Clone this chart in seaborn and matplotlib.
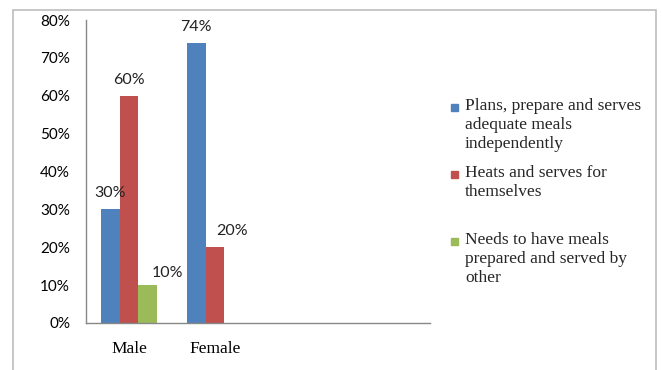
import textwrap
import numpy as np
import pandas as pd
import matplotlib; matplotlib.use("Agg")
import matplotlib.pyplot as plt
import seaborn as sns
from matplotlib.patches import Rectangle

GENDERS       = ["Male", "Female"]
SERIES        = ["Plans, prepare and serves adequate meals independently",
                 "Heats and serves for themselves",
                 "Needs to have meals prepared and served by other"]
VALUES_MALE   = [30, 60, 10]
VALUES_FEMALE = [74, 20, np.nan]
COLORS        = ["#4F81BD", "#C0504D", "#9BBB59"]
Y_TICKS       = [0, 10, 20, 30, 40, 50, 60, 70, 80]

W, H, DPI = 662, 370, 100
SERIF = "Liberation Serif"
SANS  = "Lato"
GREY  = "#878787"

# label nudges in pixels (dx, dy above bar top), Excel put a couple off-centre
NUDGE_DEFAULT = (0, 16)
NUDGE = {(2, 0): (20, 12), (1, 1): (17, 16)}


def px(v): return v * 72 / DPI


rows = []
for g, vals in zip(GENDERS, [VALUES_MALE, VALUES_FEMALE]):
    for s, v in zip(SERIES, vals):
        rows.append({"gender": g, "series": s, "value": v})
df = pd.DataFrame(rows)

sns.set_style("white")
fig = plt.figure(figsize=(W / DPI, H / DPI), dpi=DPI)
ax = fig.add_axes([86 / W, 1 - 323 / H, (430 - 86) / W, (323 - 20) / H])

sns.barplot(data=df, x="gender", y="value", hue="series",
            order=GENDERS, hue_order=SERIES, palette=COLORS,
            width=0.66, gap=0, saturation=1, errorbar=None,
            linewidth=0, legend=False, ax=ax)

for i, cont in enumerate(ax.containers):
    for bar in cont:
        h = bar.get_height()
        if np.isnan(h) or h == 0:
            continue
        cx = bar.get_x() + bar.get_width() / 2
        cat = int(round(cx))
        dx, dy = NUDGE.get((i, cat), NUDGE_DEFAULT)
        ax.annotate(f"{h:.0f}%", (cx, h), xytext=(px(dx), px(dy)),
                    textcoords="offset points", ha="center", va="center",
                    fontsize=11.5, family=SANS, color="#222222")

ax.set_xlim(-0.5, 3.5)
ax.set_ylim(0, 80)
ax.set_yticks(Y_TICKS)
ax.set_yticklabels([f"{t}%" for t in Y_TICKS], family=SANS, fontsize=11)
ax.set_xticks(range(len(GENDERS)))
ax.set_xticklabels(GENDERS, family=SERIF, fontsize=12.5)
ax.set_xticks(np.arange(-0.5, 3.6, 1), minor=True)
ax.set_xlabel(""); ax.set_ylabel("")

ax.tick_params(axis="x", which="major", length=0, pad=13, colors="black")
ax.tick_params(axis="x", which="minor", length=px(6), width=1, color=GREY, direction="out")
ax.tick_params(axis="y", length=px(6), width=1, color=GREY, direction="out",
               pad=px(10), labelcolor="black")
for side in ["top", "right"]:
    ax.spines[side].set_visible(False)
for side in ["left", "bottom"]:
    ax.spines[side].set_color(GREY)
    ax.spines[side].set_linewidth(1)

# manual legend, Excel style
tops = [98, 165, 232]
for s, c, t in zip(SERIES, COLORS, tops):
    fig.patches.append(Rectangle((451 / W, 1 - (t + 13) / H), 7 / W, 7 / H,
                                 transform=fig.transFigure, color=c))
    fig.text(465 / W, 1 - t / H, textwrap.fill(s, 25), ha="left", va="top",
             family=SERIF, fontsize=12.5, linespacing=1.25)

# outer chart frame
fig.patches.append(Rectangle((13 / W, -0.1), (656 - 13) / W, 1 - 10 / H + 0.1,
                             transform=fig.transFigure, fill=False,
                             edgecolor="#BDBDBD", linewidth=1.2))

plt.savefig("out.png", dpi=DPI)
